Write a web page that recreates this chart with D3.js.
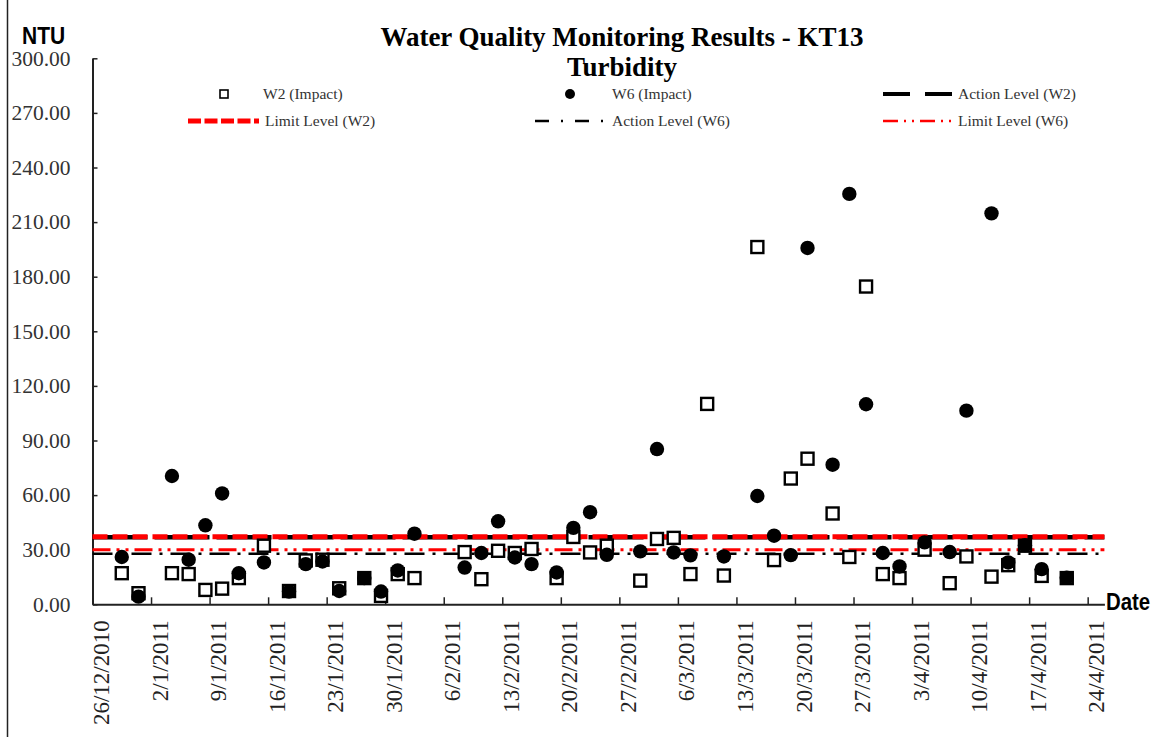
<!DOCTYPE html>
<html>
<head>
<meta charset="utf-8">
<script src="https://cdn.jsdelivr.net/npm/d3@7/dist/d3.min.js"></script>
<style>
  html, body { margin: 0; padding: 0; background: #fff; }
  svg { display: block; }
</style>
</head>
<body>
<div id="chart"></div>
<script>
// ── Turbidity chart, KT13 ──
// Sampling dates and readings (NTU) for the two impact stations.

const sampleDates = [
  '2010-12-29', '2010-12-31', '2011-01-04', '2011-01-06', '2011-01-08', '2011-01-10',
  '2011-01-12', '2011-01-15', '2011-01-18', '2011-01-20', '2011-01-22', '2011-01-24',
  '2011-01-27', '2011-01-29', '2011-01-31', '2011-02-02', '2011-02-08', '2011-02-10',
  '2011-02-12', '2011-02-14', '2011-02-16', '2011-02-19', '2011-02-21', '2011-02-23',
  '2011-02-25', '2011-03-01', '2011-03-03', '2011-03-05', '2011-03-07', '2011-03-09',
  '2011-03-11', '2011-03-15', '2011-03-17', '2011-03-19', '2011-03-21', '2011-03-24',
  '2011-03-26', '2011-03-28', '2011-03-30', '2011-04-01', '2011-04-04', '2011-04-07',
  '2011-04-09', '2011-04-12', '2011-04-14', '2011-04-16', '2011-04-18', '2011-04-21',
]

const w2Impact = [
  17.1, 6.1, 17.1, 16.6, 7.9, 8.6,
  14.4, 32.2, 7.3, 24.1, 24.5, 8.8,
  14.4, 4.6, 16.6, 14.4, 28.7, 13.8,
  29.4, 28.2, 30.4, 14.4, 37.0, 28.5,
  32.2, 13.0, 35.9, 36.5, 16.6, 110.1,
  15.8, 196.3, 24.3, 69.1, 80.0, 49.9,
  26.0, 174.6, 16.6, 14.4, 30.0, 11.6,
  26.3, 15.2, 21.5, 32.2, 15.6, 14.4,
]

const w6Impact = [
  26.0, 4.2, 70.5, 24.5, 43.4, 60.9,
  17.1, 23.0, 7.0, 22.1, 23.5, 7.3,
  14.4, 7.0, 18.6, 38.8, 20.2, 28.2,
  45.6, 25.7, 22.1, 17.5, 42.0, 50.6,
  27.2, 29.1, 85.3, 28.5, 26.9, null,
  26.3, 59.5, 37.7, 27.0, 195.8, 76.7,
  225.5, 109.9, 28.2, 20.8, 34.0, 28.7,
  106.4, 214.8, 23.0, 32.5, 19.3, 14.6,
]

// Action / limit levels (NTU)
const levelNames = ['Action Level (W2)', 'Limit Level (W2)', 'Action Level (W6)', 'Limit Level (W6)']
const levelValues = [36.9, 37.1, 27.8, 30.0]

const yTicks = [0, 30, 60, 90, 120, 150, 180, 210, 240, 270, 300]
const xTickDates = [
  '2010-12-26', '2011-01-02', '2011-01-09', '2011-01-16', '2011-01-23', '2011-01-30',
  '2011-02-06', '2011-02-13', '2011-02-20', '2011-02-27', '2011-03-06', '2011-03-13',
  '2011-03-20', '2011-03-27', '2011-04-03', '2011-04-10', '2011-04-17', '2011-04-24',
]
const xDomain = ['2010-12-26', '2011-04-26']

const W = 1158, H = 737
const SERIF = '"Liberation Serif", "Times New Roman", serif'
const SANS = '"Liberation Sans", Arial, sans-serif'

const parse = d3.utcParse('%Y-%m-%d')
// Excel's date axis puts a point in the middle of its day slot
const atNoon = s => d3.utcHour.offset(parse(s), 12)

const plotLeft = 92.5, plotRight = 1104.4, plotTop = 58.3, plotBottom = 604.3

const x = d3.scaleUtc().domain(xDomain.map(parse)).range([plotLeft, plotRight])
const y = d3.scaleLinear().domain([0, 300]).range([plotBottom, plotTop])

const svg = d3.select('#chart').append('svg')
  .attr('width', W).attr('height', H)
  .attr('viewBox', `0 0 ${W} ${H}`)

svg.append('rect').attr('width', W).attr('height', H).attr('fill', '#fff')
svg.append('line')
  .attr('x1', 7.5).attr('x2', 7.5).attr('y1', 0).attr('y2', H)
  .attr('stroke', '#222').attr('stroke-width', 1.5)

// ── Titles ──
svg.append('text')
  .attr('x', 622).attr('y', 46)
  .attr('text-anchor', 'middle')
  .attr('font-family', SERIF).attr('font-weight', 700).attr('font-size', 27)
  .text('Water Quality Monitoring Results - KT13')
svg.append('text')
  .attr('x', 622).attr('y', 76)
  .attr('text-anchor', 'middle')
  .attr('font-family', SERIF).attr('font-weight', 700).attr('font-size', 27)
  .text('Turbidity')

// axis captions are a condensed sans in the workbook; squeeze horizontally
svg.append('text')
  .attr('transform', 'translate(22,44) scale(0.875,1)')
  .attr('font-family', SANS).attr('font-weight', 700).attr('font-size', 24)
  .text('NTU')
svg.append('text')
  .attr('transform', 'translate(1106,610) scale(0.85,1)')
  .attr('font-family', SANS).attr('font-weight', 700).attr('font-size', 24)
  .text('Date')

// ── Axes ──
const yAxis = svg.append('g')
  .attr('transform', `translate(${plotLeft},0)`)
  .call(d3.axisLeft(y).tickValues(yTicks).tickFormat(d3.format('.2f'))
    .tickSizeInner(-5).tickSizeOuter(0).tickPadding(22))
yAxis.select('.domain').attr('stroke', '#222').attr('stroke-width', 2)
yAxis.selectAll('.tick line').attr('stroke', '#222').attr('stroke-width', 1.5)
yAxis.selectAll('.tick text')
  .attr('font-family', SERIF).attr('font-size', 21.5).attr('fill', '#333')

const xAxis = svg.append('g')
  .attr('transform', `translate(0,${plotBottom})`)
  .call(d3.axisBottom(x).tickValues(xTickDates.map(parse))
    .tickFormat(d3.utcFormat('%-d/%-m/%Y'))
    .tickSizeInner(-7).tickSizeOuter(0))
xAxis.select('.domain').attr('stroke', '#222').attr('stroke-width', 2)
xAxis.selectAll('.tick line').attr('stroke', '#222').attr('stroke-width', 1.5)
xAxis.selectAll('.tick text')
  .attr('transform', 'rotate(-90)')
  .attr('text-anchor', 'end')
  .attr('x', -16).attr('y', 8).attr('dy', '0.35em')
  .attr('font-family', SERIF).attr('font-size', 23).attr('fill', '#222')

// ── Action / limit lines ──
const levelStyles = [
  { color: '#000', width: 4.5, dash: '55,7' },
  { color: '#ff0000', width: 5, dash: '15,5' },
  { color: '#000', width: 2.5, dash: '20,8,3,8' },
  { color: '#ff0000', width: 3, dash: '18,6,3,6,3,6' },
]
// draw W6 lines first so the W2 pair sits on top, as in the workbook
const drawOrder = [2, 3, 0, 1]
drawOrder.forEach(i => {
  svg.append('line')
    .attr('x1', plotLeft).attr('x2', plotRight)
    .attr('y1', y(levelValues[i])).attr('y2', y(levelValues[i]))
    .attr('stroke', levelStyles[i].color)
    .attr('stroke-width', levelStyles[i].width)
    .attr('stroke-dasharray', levelStyles[i].dash)
})

// ── Points ──
const w2Points = sampleDates.map((d, i) => ({ date: atNoon(d), v: w2Impact[i] })).filter(d => d.v != null)
const w6Points = sampleDates.map((d, i) => ({ date: atNoon(d), v: w6Impact[i] })).filter(d => d.v != null)

const sq = 12
svg.append('g').selectAll('rect')
  .data(w2Points)
  .join('rect')
  .attr('x', d => x(d.date) - sq / 2)
  .attr('y', d => y(d.v) - sq / 2)
  .attr('width', sq).attr('height', sq)
  .attr('fill', '#fff').attr('stroke', '#000').attr('stroke-width', 2.4)

svg.append('g').selectAll('circle')
  .data(w6Points)
  .join('circle')
  .attr('cx', d => x(d.date))
  .attr('cy', d => y(d.v))
  .attr('r', 7.2)
  .attr('fill', '#000')

// ── Legend ──
const legend = svg.append('g')
  .attr('font-family', SERIF).attr('font-size', 15.5).attr('fill', '#333')

function legendText(tx, ty, label) {
  legend.append('text').attr('x', tx).attr('y', ty + 5).text(label)
}

legend.append('rect')
  .attr('x', 220).attr('y', 90).attr('width', 8).attr('height', 8)
  .attr('fill', '#fff').attr('stroke', '#000').attr('stroke-width', 1.6)
legendText(263, 94, 'W2 (Impact)')

legend.append('circle').attr('cx', 570).attr('cy', 94).attr('r', 5).attr('fill', '#000')
legendText(612, 94, 'W6 (Impact)')

const legendLines = [
  { i: 0, x1: 883, x2: 952, y: 94, dash: '27,15', width: 4, tx: 958 },
  { i: 1, x1: 188, x2: 259, y: 121, dash: '13,3.5', width: 5, tx: 265 },
  { i: 2, x1: 535, x2: 605, y: 121, dash: '14,12,2,12', width: 2.5, tx: 612 },
  { i: 3, x1: 883, x2: 952, y: 121, dash: '15,6,2,6,2,6', width: 2.5, tx: 958 },
]
legendLines.forEach(l => {
  legend.append('line')
    .attr('x1', l.x1).attr('x2', l.x2).attr('y1', l.y).attr('y2', l.y)
    .attr('stroke', levelStyles[l.i].color)
    .attr('stroke-width', l.width)
    .attr('stroke-dasharray', l.dash)
  legendText(l.tx, l.y, levelNames[l.i])
})
</script>
</body>
</html>
